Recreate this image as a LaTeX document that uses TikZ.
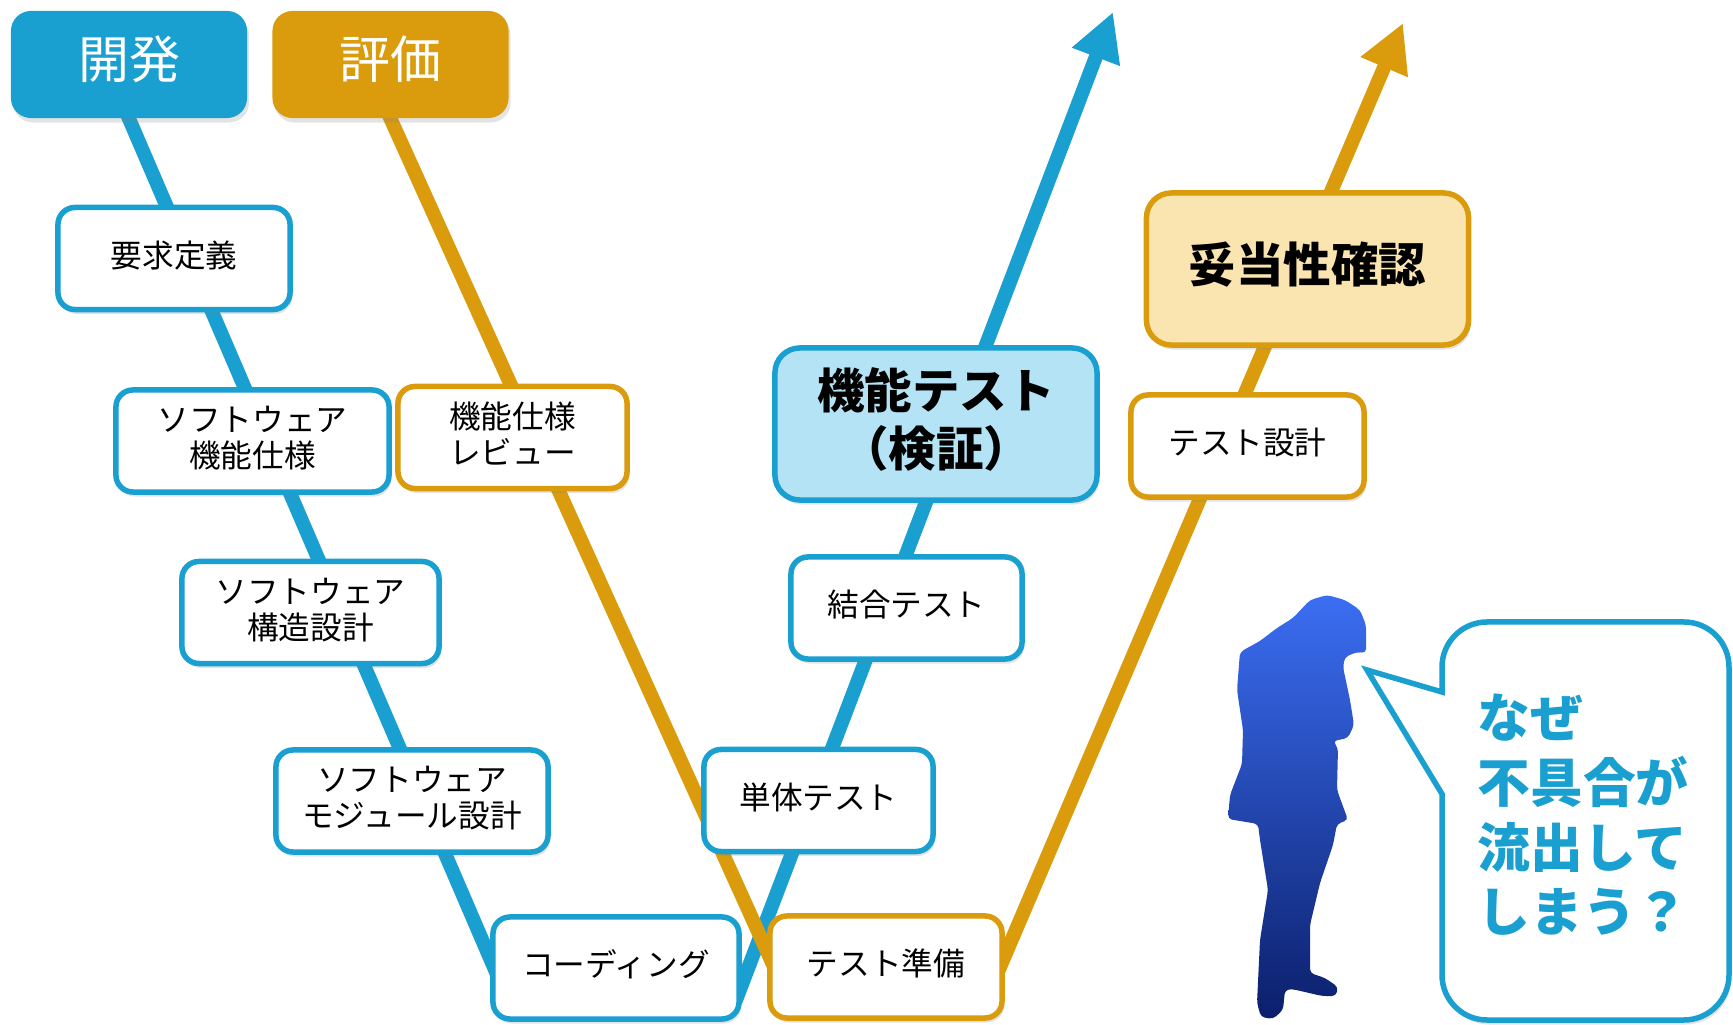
\documentclass[tikz,border=0pt]{standalone}
\usepackage{fontspec}
\setmainfont{Noto Sans CJK JP}
\usetikzlibrary{arrows.meta, shadows, backgrounds}

\definecolor{vblue}{HTML}{199FD0}
\definecolor{vorange}{HTML}{DA9C0D}
\definecolor{vbluelight}{HTML}{B5E3F6}
\definecolor{vorangelight}{HTML}{FAE5B1}
\definecolor{figtop}{HTML}{3B6EF2}
\definecolor{figbot}{HTML}{0B1F6B}

\begin{document}
\begin{tikzpicture}[x=0.01cm, y=-0.01cm, every node/.style={inner sep=0pt},
	shadowed/.style={drop shadow={shadow xshift=0.02cm, shadow yshift=-0.045cm, opacity=0.22}},
	header/.style={shadowed, rounded corners=0.2cm, minimum width=2.36cm, minimum height=1.07cm, text=white, text height=11.6pt, text depth=3.9pt, font=\fontsize{14.5}{17}\selectfont},
	stepbox/.style={shadowed, draw, fill=white, line width=0.055cm, rounded corners=0.17cm, minimum height=1.02cm, align=center, text height=7.2pt, text depth=2.2pt, font=\fontsize{9}{10.2}\selectfont},
	twolines/.style={text height=17.4pt},
	devbox/.style={stepbox, draw=vblue},
	evalbox/.style={stepbox, draw=vorange},
	bigbox/.style={shadowed, draw, line width=0.055cm, rounded corners=0.25cm, minimum width=3.22cm, minimum height=1.52cm, align=center, text height=10.8pt, text depth=3.2pt, font=\fontsize{13.5}{16.5}\selectfont\bfseries},
	vline/.style={line width=0.14cm, line join=round, -{Triangle[length=0.48cm, width=0.48cm]}}]
	\useasboundingbox (0,0) rectangle (1733,1025);

	% headers
	\node[header, fill=vblue]		(dev) at (129,64.5) {開発};
	\node[header, fill=vorange]		(eval) at (390.5,64.5) {評価};

	% left side of the V
	\node[devbox, minimum width=2.32cm]				(req) at (174,258.5) {要求定義};
	\node[devbox, twolines, minimum width=2.73cm]	(swfunc) at (252.5,441) {ソフトウェア\\機能仕様};
	\node[evalbox, twolines, minimum width=2.29cm]	(review) at (512.5,437.5) {機能仕様\\レビュー};
	\node[devbox, twolines, minimum width=2.57cm]	(swarch) at (310.5,612.5) {ソフトウェア\\構造設計};
	\node[devbox, twolines, minimum width=2.72cm]	(swmod) at (412,801) {ソフトウェア\\モジュール設計};
	\node[devbox, minimum width=2.46cm]				(coding) at (616,968) {コーディング};
	\node[evalbox, minimum width=2.32cm]			(prep) at (886,967) {テスト準備};

	% right side of the V
	\node[devbox, minimum width=2.29cm]		(unit) at (818.5,800.5) {単体テスト};
	\node[devbox, minimum width=2.31cm]		(integ) at (906.5,608) {結合テスト};
	\node[bigbox, draw=vblue, fill=vbluelight, text height=27.3pt]	(functest) at (936,424) {機能テスト\\（検証）};
	\node[evalbox, minimum width=2.33cm]	(testdes) at (1247.5,446) {テスト設計};
	\node[bigbox, draw=vorange, fill=vorangelight]	(valid) at (1307.5,269) {妥当性確認};

	% bends and tips of the two V lines
	\coordinate (blueL) at (508,1000);
	\coordinate (blueR) at (736,1000);
	\coordinate (bluetip) at (1113,12);
	\coordinate (orangeL) at (789,1000);
	\coordinate (orangeR) at (986,1000);
	\coordinate (orangetip) at (1403,23);

	\begin{scope}[on background layer]
		\draw[vline, vblue, shorten <=-0.2cm]	(dev.south) -- (blueL) -- (blueR) -- (bluetip);
		\draw[vline, vorange, shorten <=-0.2cm]	(eval.south) -- (orangeL) -- (orangeR) -- (orangetip);
	\end{scope}

	% the worried engineer
	\shade[top color=figtop, bottom color=figbot, rounded corners=0.04cm]
		(1327,595) -- (1345,600) -- (1360,610) -- (1366,625) -- (1366,653) -- (1357,652)
		-- (1345,657) -- (1343,667) -- (1350,700) -- (1354,725) -- (1348,738) -- (1333,741)
		-- (1338,748) -- (1337,790) -- (1348,820) -- (1337,824) -- (1333,845) -- (1320,883)
		-- (1310,925) -- (1310,973) -- (1325,978) -- (1338,987) -- (1336,996) -- (1322,996)
		-- (1292,989) -- (1285,990) -- (1283,1010) -- (1273,1019) -- (1261,1017) -- (1257,1003)
		-- (1260,940) -- (1268,890) -- (1260,840) -- (1258,824) -- (1228,819) -- (1230,795)
		-- (1242,764) -- (1243,730) -- (1237,690) -- (1240,652) -- (1260,641) -- (1277,628)
		-- (1293,618) -- (1310,600) -- cycle;

	% speech bubble
	\draw[shadowed, vblue, fill=white, line width=0.055cm]
		(1442,794) [rounded corners=0.45cm] -- (1442,1020) -- (1729,1020) -- (1729,622) -- (1442,622)
		[sharp corners] -- (1442,692) -- (1367,670) -- cycle;
	\node[anchor=west, align=left, text=vblue, font=\fontsize{15}{18.4}\selectfont\bfseries]
		(why) at (1477,815) {なぜ\\不具合が\\流出して\\しまう？};
\end{tikzpicture}
\end{document}
